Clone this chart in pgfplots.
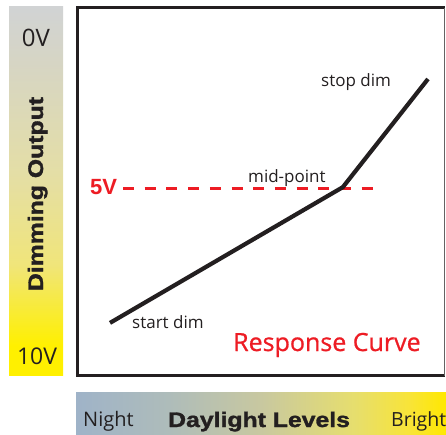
\documentclass[border=0pt]{standalone}
\usepackage{fontspec}
\usepackage{pgfplots}
\pgfplotsset{compat=1.18}
\setmainfont{Open Sans}
\newfontfamily\blk[FakeStretch=1.18,FakeBold=1.6]{Liberation Sans}
\newfontfamily\arb{Liberation Sans}
\newfontfamily\semi[FakeBold=0.8]{Open Sans}
\definecolor{txt}{HTML}{231F20}
\definecolor{rd}{HTML}{ED1C24}
\definecolor{boxc}{HTML}{231F20}
\pgfdeclareverticalshading{leftbar}{100bp}{color(0bp)=({rgb,255:red,255;green,242;blue,0}); color(29bp)=({rgb,255:red,255;green,240;blue,0}); color(40bp)=({rgb,255:red,240;green,229;blue,122}); color(52.5bp)=({rgb,255:red,228;green,222;blue,166}); color(67.5bp)=({rgb,255:red,214;green,213;blue,196}); color(75bp)=({rgb,255:red,209;green,211;blue,212}); color(100bp)=({rgb,255:red,209;green,211;blue,212})}
\pgfdeclarehorizontalshading{bottombar}{100bp}{color(0bp)=({rgb,255:red,159;green,179;blue,200}); color(25bp)=({rgb,255:red,159;green,179;blue,200}); color(37.5bp)=({rgb,255:red,174;green,188;blue,186}); color(50bp)=({rgb,255:red,200;green,200;blue,160}); color(62.5bp)=({rgb,255:red,230;green,222;blue,110}); color(70bp)=({rgb,255:red,248;green,228;blue,56}); color(75bp)=({rgb,255:red,255;green,232;blue,0}); color(100bp)=({rgb,255:red,255;green,232;blue,0})}
\begin{document}
\begin{tikzpicture}
\useasboundingbox (0,0) rectangle (446pt,-435pt);
% gradient bars
\shade[shading=leftbar] (9pt,-7pt) rectangle (63pt,-375pt);
\shade[shading=bottombar] (76pt,-392pt) rectangle (446pt,-435pt);
\begin{axis}[
  at={(77.5pt,-375.5pt)}, anchor=south west,
  scale only axis, width=367pt, height=368pt,
  xmin=0, xmax=10, ymin=0, ymax=10.14, y dir=reverse,
  axis lines=none, ticks=none, clip=false,
]
\draw[line width=3pt, boxc] (rel axis cs:1,0) -- (rel axis cs:0,0) -- (rel axis cs:0,1) -- (rel axis cs:1,1);
\draw[line width=1pt, boxc!70] (rel axis cs:1,0) -- (rel axis cs:1,1);
% 5V reference line
\addplot[rd, line width=3pt, dash pattern=on 11pt off 10.7pt] coordinates {(1.24,5.0) (8.24,5.0)};
% response curve
\addplot[boxc, line width=4.2pt, line join=miter] coordinates {(0.886,8.69) (7.23,4.95) (9.55,1.97)};
\end{axis}
% labels
\node[anchor=base, inner sep=0pt, text=txt, font=\fontsize{24}{24}\selectfont] at (36pt,-47pt) {0V};
\node[anchor=base, inner sep=0pt, text=txt, font=\fontsize{23}{23}\selectfont] at (37pt,-364pt) {10V};
\node[anchor=base, rotate=90, inner sep=0pt, text=txt, font=\blk\bfseries\fontsize{21}{21}\selectfont] at (43pt,-194pt) {Dimming Output};
\node[anchor=base west, inner sep=0pt, text=txt, font=\fontsize{20}{20}\selectfont] at (83pt,-426pt) {Night};
\node[anchor=base west, inner sep=0pt, text=txt, font=\blk\bfseries\fontsize{21}{21}\selectfont] at (168pt,-427pt) {Daylight Levels};
\node[anchor=base west, inner sep=0pt, text=txt, font=\fontsize{19.5}{20}\selectfont] at (391pt,-426pt) {Bright};
\node[anchor=base west, inner sep=0pt, text=txt, font=\fontsize{17}{17}\selectfont] at (321pt,-87pt) {stop dim};
\node[anchor=base west, inner sep=0pt, text=txt, font=\fontsize{17}{17}\selectfont] at (248pt,-183pt) {mid-point};
\node[anchor=base west, inner sep=0pt, text=txt, font=\fontsize{17}{17}\selectfont] at (132pt,-328pt) {start dim};
\node[anchor=base west, inner sep=0pt, text=rd, font=\semi\fontsize{25}{25}\selectfont] at (233pt,-351pt) {Response Curve};
\node[anchor=base west, inner sep=0pt, text=rd, font=\arb\bfseries\fontsize{22}{22}\selectfont] at (90pt,-195pt) {5V};
\end{tikzpicture}
\end{document}
